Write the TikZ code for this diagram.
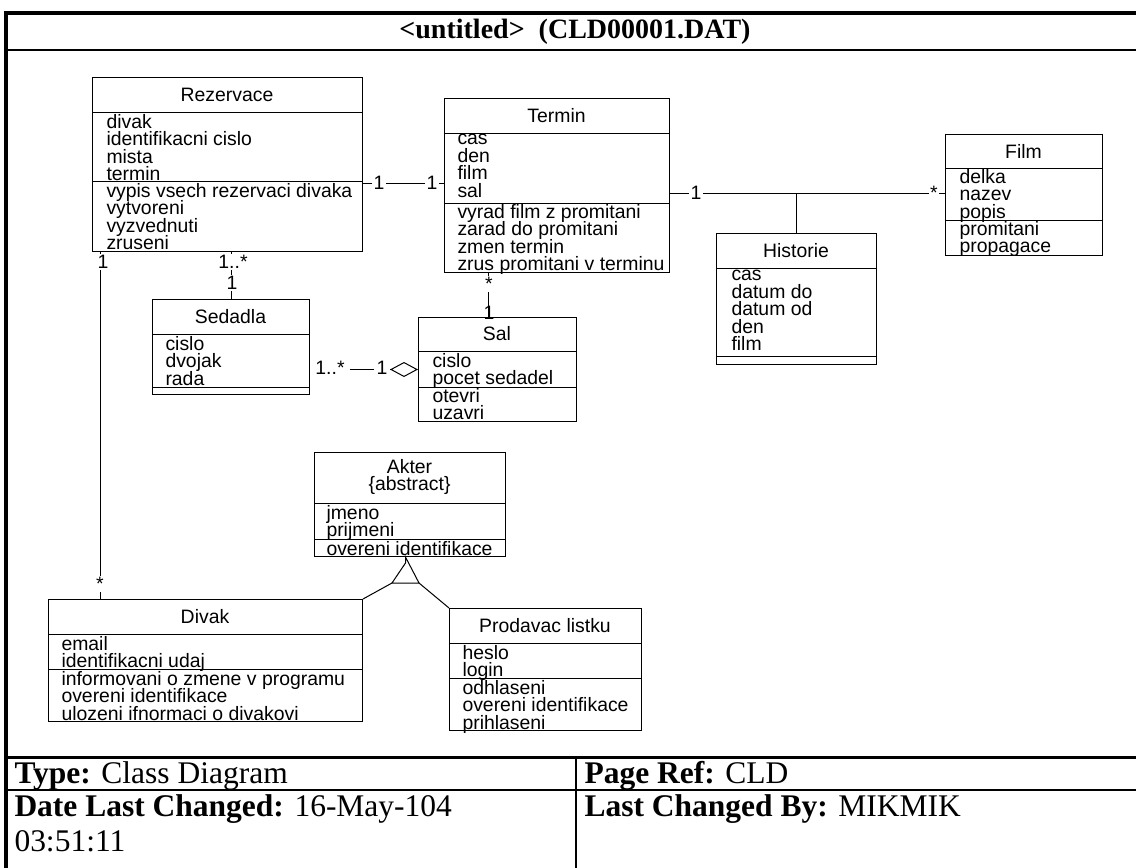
\documentclass[tikz,border=0pt]{standalone}
\usepackage{fontspec}
\setmainfont{Liberation Serif}
\newfontfamily\umlfont{Liberation Sans}
\usepackage{tikz}
\usetikzlibrary{positioning,calc,arrows.meta}
\newcommand{\clsfont}{\umlfont\fontsize{19.4}{17.4}\selectfont\lineskiplimit=-\maxdimen}
\tikzstyle{cls} = [draw, line width=1pt, inner sep=0pt, anchor=north west]
\tikzstyle{cname} = [font=\clsfont, inner sep=0pt, align=center]
\tikzstyle{items} = [font=\clsfont, inner sep=0pt, align=left, anchor=north west, yshift=-2pt, execute at begin node=\vphantom{Ald}]
\tikzstyle{mult} = [font=\clsfont, fill=white, inner sep=1.5pt]
\tikzstyle{foot} = [font=\fontsize{31.5}{35}\selectfont, inner sep=0pt, anchor=north west, align=left]

\begin{document}
\begin{tikzpicture}[x=1pt, y=-1pt, line width=1pt]
    \useasboundingbox (0,0) rectangle (1136,868);
    \clip (0,0) rectangle (1136,868);
    \fill[white] (0,0) rectangle (1136,868);

    % frame and title block
    \draw[line width=4pt] (6,875) -- (6,13) -- (1145,13);
    \draw[line width=2pt] (6,50) -- (1145,50);
    \draw[line width=3pt] (6,757) -- (1145,757);
    \draw[line width=2pt] (6,790) -- (1145,790);
    \draw[line width=2pt] (576,757) -- (576,875);
    \node (title) [font=\bfseries\fontsize{28}{30}\selectfont] at (575,32) {<untitled>\ \ (CLD00001.DAT)};
    \node (type) [foot] at (14,761) {\textbf{Type:} Class Diagram};
    \node (pageref) [foot] at (584,761) {\textbf{Page Ref:} CLD};
    \node (date) [foot] at (14,794) {\textbf{Date Last Changed:} 16-May-104\\03:51:11};
    \node (changedby) [foot] at (584,794) {\textbf{Last Changed By:} MIKMIK};

    % Rezervace
    \node (rez) [cls, minimum width=270pt, minimum height=174pt] at (92,77) {};
    \draw (rez.north west) ++(0,35) -- ++(270,0);
    \draw (rez.north west) ++(0,104) -- ++(270,0);
    \node (rezname) [cname] at (227,94.5) {Rezervace};
    \node (rezattr) [items] at (106,112) {divak\\identifikacni cislo\\mista\\termin};
    \node (rezops) [items] at (106,181) {vypis vsech rezervaci divaka\\vytvoreni\\vyzvednuti\\zruseni};

    % Termin
    \node (term) [cls, minimum width=225pt, minimum height=174pt] at (444,98) {};
    \draw (term.north west) ++(0,35) -- ++(225,0);
    \draw (term.north west) ++(0,105) -- ++(225,0);
    \node (termname) [cname] at (556.5,115.5) {Termin};
    \node (termattr) [items] at (457,132) {cas\\den\\film\\sal};
    \node (termops) [items] at (457,202) {vyrad film z promitani\\zarad do promitani\\zmen termin\\zrus promitani v terminu};

    % Film
    \node (film) [cls, minimum width=157pt, minimum height=121pt] at (945,134) {};
    \draw (film.north west) ++(0,34) -- ++(157,0);
    \draw (film.north west) ++(0,86) -- ++(157,0);
    \node (filmname) [cname] at (1023.5,151) {Film};
    \node (filmattr) [items] at (959,167) {delka\\nazev\\popis};
    \node (filmops) [items] at (959,219) {promitani\\propagace};

    % Historie
    \node (hist) [cls, minimum width=160pt, minimum height=131pt] at (716,233) {};
    \draw (hist.north west) ++(0,35) -- ++(160,0);
    \draw (hist.north west) ++(0,123) -- ++(160,0);
    \node (histname) [cname] at (796,250.5) {Historie};
    \node (histattr) [items] at (731,268) {cas\\datum do\\datum od\\den\\film};

    % Sedadla
    \node (sed) [cls, minimum width=157pt, minimum height=95pt] at (152,299) {};
    \draw (sed.north west) ++(0,35) -- ++(157,0);
    \draw (sed.north west) ++(0,88) -- ++(157,0);
    \node (sedname) [cname] at (230.5,316.5) {Sedadla};
    \node (sedattr) [items] at (165,334) {cislo\\dvojak\\rada};

    % Sal
    \node (sal) [cls, minimum width=158pt, minimum height=104pt] at (418,317) {};
    \draw (sal.north west) ++(0,34) -- ++(158,0);
    \draw (sal.north west) ++(0,70) -- ++(158,0);
    \node (salname) [cname] at (497,334) {Sal};
    \node (salattr) [items] at (432,351) {cislo\\pocet sedadel};
    \node (salops) [items] at (432,386) {otevri\\uzavri};

    % Akter
    \node (akt) [cls, minimum width=191pt, minimum height=104pt] at (314,452) {};
    \draw (akt.north west) ++(0,51) -- ++(191,0);
    \draw (akt.north west) ++(0,87) -- ++(191,0);
    \node (aktname) [cname] at (409.5,477) {Akter\\\{abstract\}};
    \node (aktattr) [items] at (326,503) {jmeno\\prijmeni};
    \node (aktops) [items] at (326,539) {overeni identifikace};

    % Divak
    \node (div) [cls, minimum width=314pt, minimum height=122pt] at (48,599) {};
    \draw (div.north west) ++(0,35) -- ++(314,0);
    \draw (div.north west) ++(0,70) -- ++(314,0);
    \node (divname) [cname] at (205,616.5) {Divak};
    \node (divattr) [items] at (61,634) {email\\identifikacni udaj};
    \node (divops) [items] at (61,669) {informovani o zmene v programu\\overeni identifikace\\ulozeni ifnormaci o divakovi};

    % Prodavac listku
    \node (prod) [cls, minimum width=192pt, minimum height=122pt] at (449,608) {};
    \draw (prod.north west) ++(0,35) -- ++(192,0);
    \draw (prod.north west) ++(0,70) -- ++(192,0);
    \node (prodname) [cname] at (545,625.5) {Prodavac listku};
    \node (prodattr) [items] at (462,643) {heslo\\login};
    \node (prodops) [items] at (462,678) {odhlaseni\\overeni identifikace\\prihlaseni};

    % associations
    \coordinate (rt) at ([yshift=-19pt]rez.east);
    \draw (rt) -- (rt -| term.west);
    \coordinate (tf) at ([yshift=-8pt]term.east);
    \draw (tf) -- (tf -| film.west);
    \draw (hist.north) -- (hist.north |- tf);
    \draw (sed.north) -- (sed.north |- rez.south);
    \coordinate (rd) at ([xshift=8pt]rez.south west);
    \draw (rd) -- (rd |- div.north);
    \coordinate (ts) at ([xshift=44pt]term.south west);
    \draw (ts) -- (ts |- sal.north);
    \draw[-{Diamond[open, length=28pt, width=15pt]}] (sal.west -| sed.east) -- (sal.west);

    % generalization
    \coordinate (gtip) at ([xshift=-4.5pt, yshift=-6pt]akt.south);
    \draw (gtip |- akt.south) -- (gtip) -- ++(-13.5,20) coordinate (gl) -- ++(27,0) coordinate (gr) -- cycle;
    \draw (gl) -- (div.north east);
    \draw (gr) -- (prod.north west);

    % multiplicities
    \node (mrt1) [mult] at (379,183) {1};
    \node (mrt2) [mult] at (432,183) {1};
    \node (mtf1) [mult] at (696,193) {1};
    \node (mtf2) [mult] at (934,193) {*};
    \node (mrs1) [mult] at (233,262) {1..*};
    \node (mrs2) [mult] at (232,283) {1};
    \node (mrd1) [mult] at (103,262) {1};
    \node (mrd2) [mult] at (100,584) {*};
    \node (mts1) [mult] at (489,284) {*};
    \node (mts2) [mult, fill=none] at (489,313) {1};
    \node (mss1) [mult, inner xsep=5pt] at (330,368) {1..*};
    \node (mss2) [mult, inner xsep=3pt] at (382,368) {1};
\end{tikzpicture}
\end{document}
